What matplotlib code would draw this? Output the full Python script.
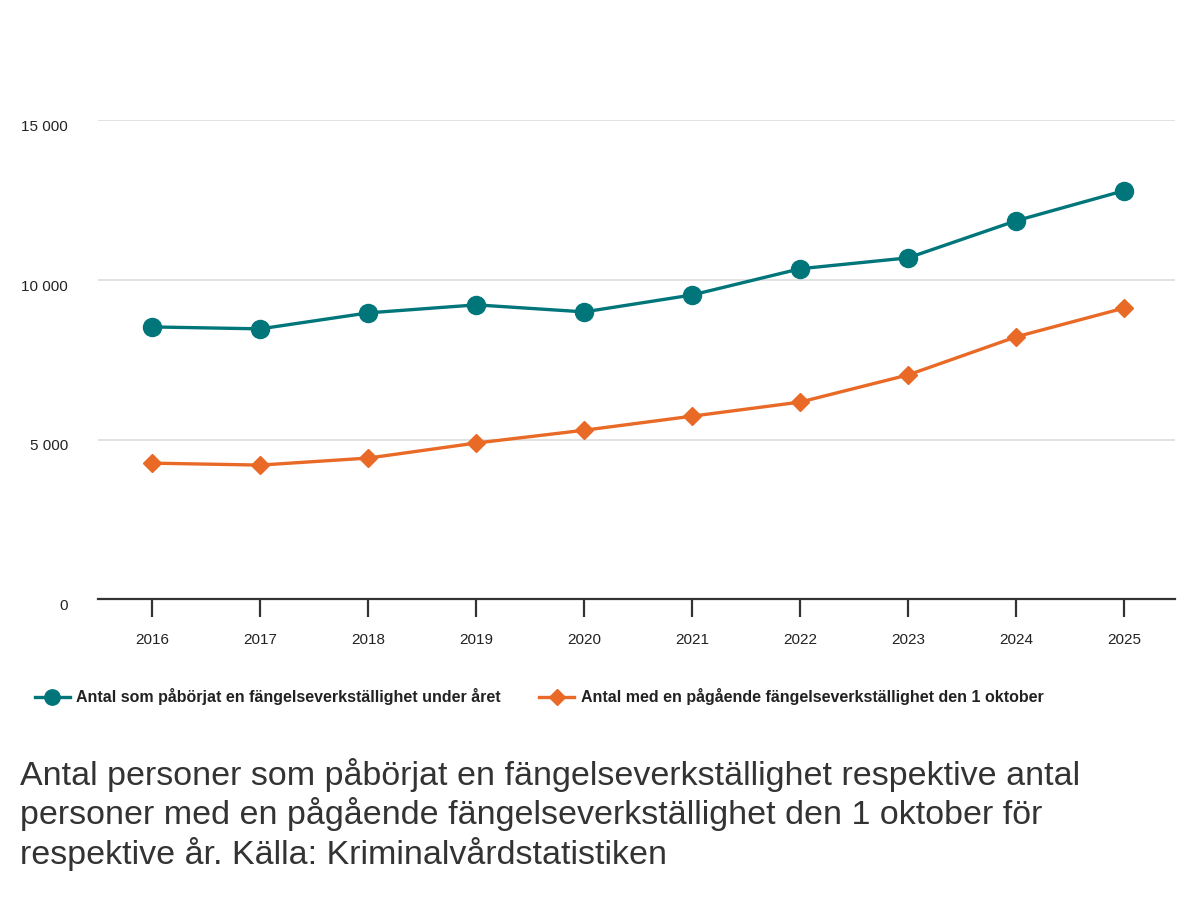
import matplotlib.pyplot as plt
from matplotlib.ticker import FuncFormatter

plt.rcParams['font.family'] = ['Liberation Sans', 'DejaVu Sans']

years = [2016, 2017, 2018, 2019, 2020, 2021, 2022, 2023, 2024, 2025]
paborjat = [8520, 8460, 8960, 9210, 8990, 9520, 10340, 10680, 11840, 12780]
pagaende = [4260, 4200, 4420, 4890, 5290, 5730, 6170, 7020, 8210, 9110]

label1 = "Antal som påbörjat en fängelseverkställighet under året"
label2 = "Antal med en pågående fängelseverkställighet den 1 oktober"
caption = ("Antal personer som påbörjat en fängelseverkställighet respektive antal\n"
           "personer med en pågående fängelseverkställighet den 1 oktober för\n"
           "respektive år. Källa: Kriminalvårdstatistiken")

teal = "#00767A"
orange = "#E86A26"

fig = plt.figure(figsize=(12, 9), dpi=100)
ax = fig.add_axes([0.082, 0.334, 0.897, 0.533])

l1, = ax.plot(years, paborjat, color=teal, lw=2.4, marker='o', ms=13, zorder=3)
l2, = ax.plot(years, pagaende, color=orange, lw=2.4, marker='D', ms=9, zorder=3)

ax.set_xlim(2015.5, 2025.47)
ax.set_ylim(0, 15000)
ax.set_yticks([0, 5000, 10000, 15000])
ax.yaxis.set_major_formatter(FuncFormatter(lambda v, p: f"{int(v):,}".replace(",", " ")))
ax.set_xticks(years)

for s in ['top', 'right', 'left']:
    ax.spines[s].set_visible(False)
ax.spines['bottom'].set_color('#333333')
ax.spines['bottom'].set_linewidth(1.6)
ax.set_axisbelow(True)
ax.grid(axis='y', color='#dddddd', lw=1.2)
ax.tick_params(axis='y', length=0, pad=22, labelsize=11, labelcolor='#222222')
ax.tick_params(axis='x', length=13, width=1.6, color='#333333', pad=11,
               labelsize=11, labelcolor='#222222')
for t in ax.get_yticklabels():
    t.set_verticalalignment('top')

fig.legend([l1, l2], [label1, label2], loc='center left', ncol=2,
           bbox_to_anchor=(0.017, 0.226), frameon=False,
           prop={'weight': 'bold', 'size': 11.5}, handlelength=2.2,
           handletextpad=0.4, columnspacing=2.4, labelcolor='#222222',
           markerscale=0.85)

fig.text(0.017, 0.158, caption, fontsize=24.5, color='#333333',
         ha='left', va='top', linespacing=1.21)

fig.savefig("out.png", dpi=100)
